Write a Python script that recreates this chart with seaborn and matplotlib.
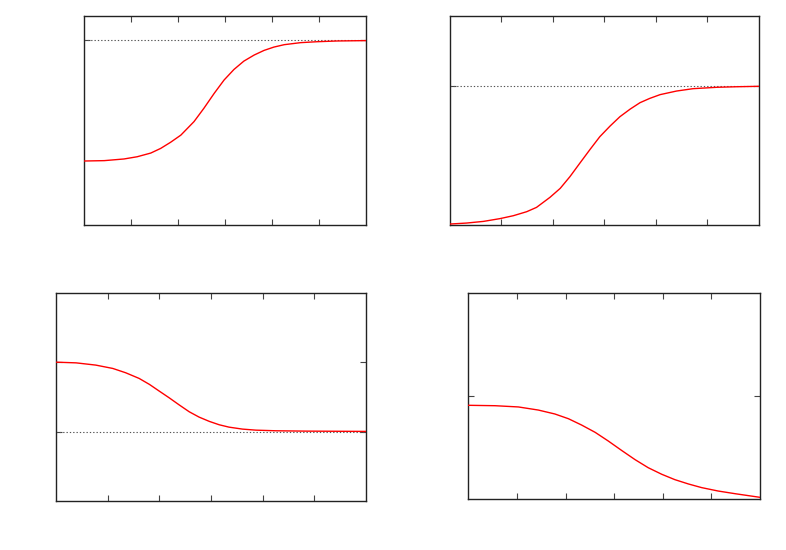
import matplotlib
matplotlib.use("Agg")
import matplotlib.pyplot as plt
import seaborn as sns
import pandas as pd

sns.set_style("white")

# Panel 1 (top-left): rises from ~0.35 to the level 1
p1_x = [0.0, 0.43, 0.85, 1.13, 1.42, 1.63, 1.84, 2.06, 2.34, 2.55, 2.77, 2.98,
        3.19, 3.40, 3.62, 3.83, 4.04, 4.26, 4.61, 4.96, 5.39, 6.0]
p1_y = [0.346, 0.348, 0.357, 0.369, 0.389, 0.414, 0.447, 0.486, 0.559, 0.631,
        0.712, 0.784, 0.841, 0.886, 0.919, 0.944, 0.962, 0.975, 0.986, 0.991,
        0.995, 0.997]
p1_level = 1.0
p1_ylim = (0.0, 1.13)

# Panel 2 (top-right): rises from 0 to the level 1
p2_x = [0.0, 0.32, 0.65, 0.97, 1.23, 1.49, 1.68, 1.94, 2.14, 2.33, 2.52, 2.72,
        2.91, 3.11, 3.30, 3.50, 3.69, 3.88, 4.08, 4.40, 4.72, 5.18, 5.57, 6.0]
p2_y = [0.007, 0.014, 0.026, 0.046, 0.067, 0.096, 0.127, 0.199, 0.264, 0.349,
        0.445, 0.545, 0.637, 0.714, 0.781, 0.836, 0.882, 0.913, 0.940, 0.966,
        0.983, 0.993, 0.997, 1.0]
p2_level = 1.0
p2_ylim = (0.0, 1.507)

# Panel 3 (bottom-left): falls from 1 to the level 0
p3_x = [0.0, 0.39, 0.77, 1.10, 1.35, 1.61, 1.81, 2.00, 2.19, 2.39, 2.58, 2.77,
        2.97, 3.16, 3.35, 3.61, 3.87, 4.26, 4.84, 6.0]
p3_y = [0.995, 0.985, 0.953, 0.905, 0.843, 0.762, 0.676, 0.580, 0.485, 0.380,
        0.284, 0.208, 0.146, 0.098, 0.064, 0.036, 0.021, 0.012, 0.007, 0.003]
p3_level = 0.0
p3_ylim = (-0.99, 1.99)
p3_yticks = [0, 1]

# Panel 4 (bottom-right): falls from ~0.91 towards 0
p4_x = [0.0, 0.55, 1.03, 1.44, 1.78, 2.06, 2.33, 2.61, 2.88, 3.16, 3.43, 3.70,
        3.98, 4.25, 4.53, 4.80, 5.14, 5.49, 6.0]
p4_y = [0.910, 0.906, 0.894, 0.864, 0.826, 0.780, 0.719, 0.648, 0.564, 0.471,
        0.384, 0.306, 0.242, 0.190, 0.148, 0.113, 0.080, 0.054, 0.019]
p4_ylim = (0.0, 2.0)
p4_yticks = [1]

x_ticks = [1, 2, 3, 4, 5]
x_lim = (0, 6)

fig = plt.figure(figsize=(7.86, 5.5), dpi=100)
ax1 = fig.add_axes([0.1069, 0.5909, 0.3588, 0.3800])
ax2 = fig.add_axes([0.5725, 0.5909, 0.3931, 0.3800])
ax3 = fig.add_axes([0.0712, 0.0896, 0.3944, 0.3782])
ax4 = fig.add_axes([0.5958, 0.0922, 0.3711, 0.3756])

panels = [
    (ax1, p1_x, p1_y, p1_level, p1_ylim, [p1_level]),
    (ax2, p2_x, p2_y, p2_level, p2_ylim, [p2_level]),
    (ax3, p3_x, p3_y, p3_level, p3_ylim, p3_yticks),
    (ax4, p4_x, p4_y, None, p4_ylim, p4_yticks),
]

for ax, xs, ys, level, ylim, yt in panels:
    if level is not None:
        ax.axhline(level, color="#555555", lw=0.8, ls=(0, (1.2, 1.8)), zorder=1)
    df = pd.DataFrame({"x": xs, "y": ys})
    sns.lineplot(data=df, x="x", y="y", ax=ax, color="red", lw=1.0, zorder=3)
    ax.set_xlim(*x_lim)
    ax.set_ylim(*ylim)
    ax.set_xticks(x_ticks)
    ax.set_yticks(yt)
    ax.set_xticklabels([])
    ax.set_yticklabels([])
    ax.set_xlabel("")
    ax.set_ylabel("")
    ax.tick_params(direction="in", length=4, width=0.8, color="#444444",
                   top=True, right=True, bottom=True, left=True)
    for s in ax.spines.values():
        s.set_visible(True)
        s.set_color("#222222")
        s.set_linewidth(1.0)

fig.savefig("out.png", dpi=100)
